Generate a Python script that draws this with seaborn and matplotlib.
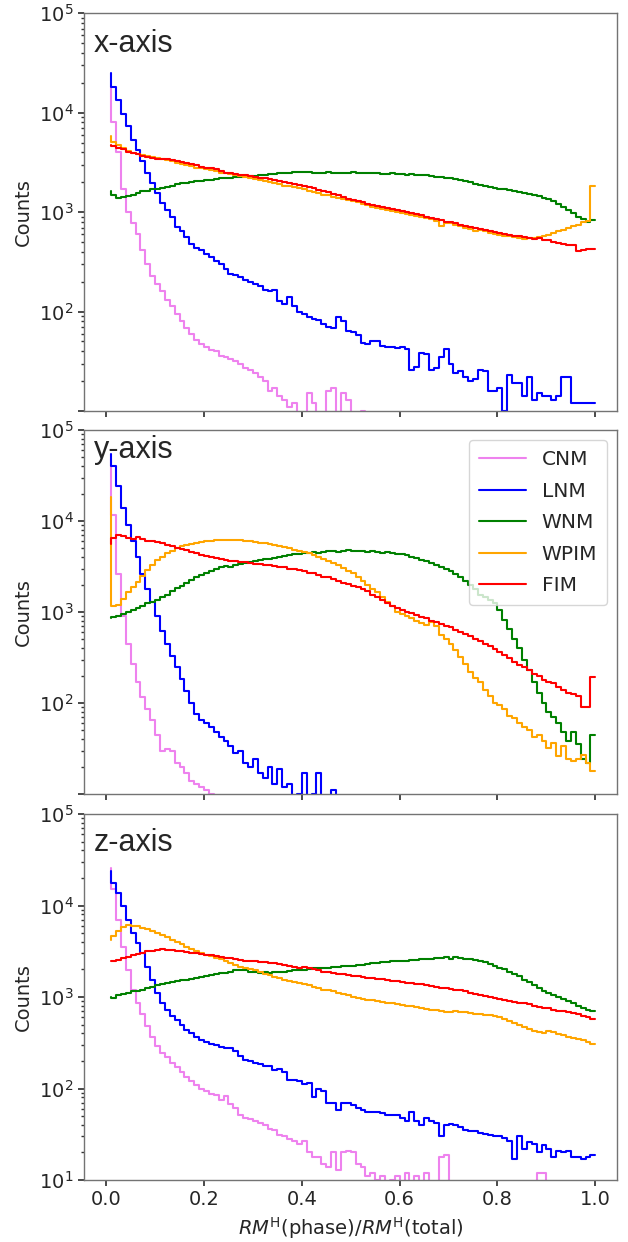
import numpy as np
import pandas as pd
import seaborn as sns
from matplotlib import pyplot as plt

# phase labels and colours
phases = ['CNM', 'LNM', 'WNM', 'WPIM', 'FIM']
phase_colors = {'CNM': 'violet', 'LNM': 'blue', 'WNM': 'green', 'WPIM': 'orange', 'FIM': 'red'}
panel_names = ['x-axis', 'y-axis', 'z-axis']

# 100 bins of RM(phase)/RM(total) (counts per bin)
cnm_x = [18000, 8000, 4000, 1700, 1000, 780, 600, 420, 300, 230,
         190, 160, 130, 115, 95, 80, 68, 60, 52, 47,
         44, 41, 40, 36, 35, 33, 32, 30, 27, 26,
         24, 22, 20, 16, 17, 14, 13, 11, 12, 9,
         8, 15, 12, 9, 7, 16, 17, 9, 15, 13,
         8, 7, 10, 6, 3, 3, 3, 3, 3, 3,
         3, 3, 3, 3, 3, 3, 3, 3, 3, 3,
         3, 3, 3, 3, 3, 3, 3, 3, 3, 3,
         3, 3, 3, 3, 3, 3, 3, 3, 3, 3,
         3, 3, 3, 3, 3, 3, 3, 3, 3, 3]
lnm_x = [25000, 18000, 13500, 9800, 7300, 5300, 4200, 3300, 2450, 1950,
         1550, 1230, 1050, 900, 710, 640, 560, 480, 440, 415,
         380, 355, 320, 300, 270, 240, 235, 224, 210, 200,
         190, 180, 163, 160, 165, 128, 120, 140, 115, 100,
         95, 88, 85, 82, 75, 70, 68, 88, 80, 64,
         62, 58, 48, 47, 51, 50, 45, 44, 44, 43,
         44, 42, 26, 28, 38, 37, 26, 27, 35, 42,
         30, 24, 25, 22, 20, 21, 26, 25, 16, 16,
         17, 10, 23, 19, 19, 14, 22, 13, 15, 14,
         14, 13, 14, 22, 22, 12, 12, 12, 12, 12]
wnm_x = [1650, 1500, 1400, 1420, 1450, 1500, 1560, 1620, 1650, 1700,
         1720, 1750, 1800, 1850, 1900, 1950, 1980, 2000, 2050, 2080,
         2100, 2120, 2150, 2180, 2200, 2220, 2250, 2270, 2300, 2300,
         2320, 2350, 2380, 2400, 2420, 2450, 2480, 2500, 2520, 2550,
         2550, 2520, 2500, 2480, 2450, 2550, 2470, 2450, 2500, 2480,
         2520, 2450, 2480, 2500, 2470, 2450, 2430, 2420, 2450, 2400,
         2420, 2380, 2400, 2350, 2340, 2360, 2300, 2280, 2250, 2200,
         2180, 2150, 2100, 2050, 2000, 1900, 1880, 1850, 1800, 1750,
         1720, 1700, 1680, 1650, 1600, 1560, 1520, 1480, 1440, 1400,
         1350, 1300, 1200, 1120, 1050, 980, 900, 850, 800, 830]
wpim_x = [5800, 5100, 4700, 4400, 4100, 3900, 3800, 3750, 3700, 3600,
          3500, 3450, 3350, 3250, 3100, 3050, 3000, 2900, 2800, 2750,
          2700, 2650, 2600, 2500, 2450, 2400, 2350, 2300, 2250, 2200,
          2150, 2100, 2050, 2000, 1950, 1900, 1850, 1820, 1780, 1750,
          1700, 1650, 1600, 1550, 1500, 1470, 1430, 1400, 1350, 1320,
          1280, 1250, 1220, 1170, 1130, 1100, 1080, 1050, 1020, 1000,
          980, 960, 930, 910, 890, 870, 850, 820, 720, 780,
          770, 750, 720, 700, 670, 640, 660, 640, 620, 600,
          590, 580, 570, 560, 550, 540, 550, 555, 560, 570,
          590, 610, 640, 660, 700, 720, 750, 800, 820, 1850]
fim_x = [4700, 4600, 4450, 4300, 4000, 3900, 3800, 3650, 3600, 3500,
         3450, 3450, 3400, 3350, 3250, 3200, 3150, 3050, 2950, 2850,
         2800, 2750, 2700, 2600, 2500, 2450, 2400, 2380, 2350, 2300,
         2250, 2200, 2180, 2150, 2100, 2050, 2000, 1950, 1900, 1870,
         1820, 1780, 1730, 1680, 1620, 1580, 1520, 1480, 1420, 1370,
         1330, 1300, 1260, 1220, 1180, 1150, 1130, 1100, 1080, 1050,
         1020, 1000, 970, 950, 930, 900, 870, 850, 830, 800,
         790, 770, 750, 730, 710, 700, 680, 660, 650, 630,
         610, 600, 590, 580, 580, 560, 550, 540, 545, 530,
         520, 500, 490, 480, 465, 470, 410, 420, 430, 430]

cnm_y = [48000, 11500, 2600, 900, 450, 270, 170, 115, 85, 65,
         45, 30, 31, 30, 22, 20, 17, 14, 13, 12,
         11, 10, 8, 6, 3, 3, 3, 3, 3, 3,
         3, 3, 3, 3, 3, 3, 3, 3, 3, 3,
         3, 3, 3, 3, 3, 3, 3, 3, 3, 3,
         3, 3, 3, 3, 3, 3, 3, 3, 3, 3,
         3, 3, 3, 3, 3, 3, 3, 3, 3, 3,
         3, 3, 3, 3, 3, 3, 3, 3, 3, 3,
         3, 3, 3, 3, 3, 3, 3, 3, 3, 3,
         3, 3, 3, 3, 3, 3, 3, 3, 3, 3]
lnm_y = [55000, 40000, 24000, 14000, 9000, 6000, 4000, 2600, 1800, 1300,
         900, 620, 440, 330, 250, 185, 135, 100, 75, 65,
         60, 55, 48, 42, 38, 34, 28, 30, 22, 20,
         24, 17, 15, 20, 13, 19, 12, 13, 9, 10,
         17, 9, 10, 17, 9, 6, 11, 3, 3, 3,
         3, 3, 3, 3, 3, 3, 3, 3, 3, 3,
         3, 3, 3, 3, 3, 3, 3, 3, 3, 3,
         3, 3, 3, 3, 3, 3, 3, 3, 3, 3,
         3, 3, 3, 3, 3, 3, 3, 3, 3, 3,
         3, 3, 3, 3, 3, 3, 3, 3, 3, 3]
wnm_y = [850, 880, 900, 950, 1000, 1050, 1100, 1150, 1250, 1300,
         1350, 1450, 1550, 1700, 1850, 1950, 2100, 2250, 2400, 2550,
         2700, 2850, 3000, 3100, 3200, 3100, 3300, 3400, 3450, 3550,
         3600, 3700, 3800, 3850, 3900, 4000, 4100, 4200, 4300, 4350,
         4400, 4500, 4550, 4500, 4600, 4650, 4700, 4600, 4700, 4750,
         4700, 4650, 4700, 4600, 4650, 4600, 4500, 4550, 4400, 4350,
         4300, 4200, 4050, 3900, 3750, 3600, 3450, 3300, 3100, 2950,
         2800, 2600, 2400, 2200, 2000, 1800, 1550, 1450, 1350, 1250,
         1050, 820, 650, 500, 400, 300, 230, 170, 130, 100,
         80, 70, 60, 48, 38, 48, 35, 24, 22, 45]
wpim_y = [18500, 1150, 1200, 1400, 1650, 1900, 2150, 2500, 2900, 3300,
          3700, 4000, 4400, 4700, 5000, 5300, 5500, 5650, 5800, 5900,
          6000, 6100, 6200, 6200, 6250, 6250, 6200, 6150, 6100, 6000,
          5900, 5800, 5700, 5550, 5400, 5300, 5150, 5000, 4850, 4700,
          4550, 4400, 4200, 4000, 3850, 3650, 3450, 3250, 3050, 2850,
          2650, 2400, 2200, 2000, 1800, 1650, 1450, 1300, 1150, 1000,
          940, 900, 850, 800, 760, 720, 780, 700, 560, 500,
          440, 380, 320, 270, 220, 190, 170, 140, 120, 100,
          95, 85, 72, 68, 60, 55, 50, 42, 45, 38,
          32, 36, 26, 34, 24, 23, 24, 27, 22, 18]
fim_y = [5600, 6500, 7000, 6800, 6500, 6400, 6600, 6300, 6100, 6000,
         5900, 5700, 5500, 5300, 5000, 4900, 4750, 4600, 4400, 4200,
         4150, 4050, 3950, 3850, 3700, 3650, 3600, 3550, 3500, 3450,
         3400, 3350, 3300, 3250, 3200, 3150, 3100, 3000, 2950, 2900,
         2800, 2700, 2650, 2550, 2450, 2400, 2300, 2200, 2100, 2050,
         1950, 1900, 1800, 1700, 1550, 1450, 1350, 1250, 1150, 1100,
         1050, 1000, 970, 920, 880, 850, 800, 780, 740, 700,
         680, 640, 600, 570, 540, 510, 480, 450, 420, 390,
         360, 340, 310, 280, 260, 250, 230, 210, 200, 180,
         170, 165, 150, 140, 130, 125, 120, 90, 90, 195]

cnm_z = [26000, 15000, 6900, 3500, 1950, 1200, 850, 660, 480, 370,
         290, 245, 220, 190, 170, 150, 135, 120, 110, 100,
         95, 88, 85, 75, 82, 68, 62, 52, 48, 46,
         44, 42, 40, 36, 35, 31, 30, 28, 27, 25,
         27, 20, 18, 18, 15, 14, 20, 13, 20, 21,
         20, 15, 14, 11, 12, 10, 11, 9, 10, 11,
         8, 12, 8, 11, 7, 12, 6, 5, 18, 19,
         8, 3, 3, 3, 3, 3, 3, 3, 3, 3,
         3, 3, 3, 3, 3, 3, 3, 3, 12, 12,
         3, 3, 3, 3, 3, 3, 3, 3, 3, 3]
lnm_z = [24000, 17500, 13800, 9800, 7000, 5000, 3900, 3000, 2150, 1550,
         1100, 850, 720, 620, 560, 500, 440, 400, 370, 340,
         320, 310, 300, 285, 280, 275, 260, 225, 205, 200,
         190, 185, 175, 175, 160, 165, 150, 125, 124, 120,
         112, 115, 81, 100, 95, 69, 70, 58, 69, 69,
         66, 62, 58, 56, 55, 56, 54, 52, 51, 52,
         48, 44, 56, 44, 40, 48, 44, 42, 30, 40,
         41, 40, 38, 35, 34, 34, 33, 32, 31, 30,
         30, 29, 27, 17, 30, 22, 26, 25, 20, 24,
         22, 18, 21, 20, 21, 18, 18, 17, 18, 19]
wnm_z = [1000, 980, 1050, 1080, 1100, 1150, 1150, 1200, 1250, 1300,
         1350, 1380, 1420, 1450, 1500, 1520, 1550, 1580, 1620, 1650,
         1700, 1750, 1800, 1850, 1850, 1900, 1950, 1950, 1950, 1900,
         1880, 1850, 1870, 1850, 1880, 1900, 1900, 1920, 1950, 1950,
         1980, 2000, 2050, 2050, 2100, 2100, 2150, 2150, 2200, 2200,
         2200, 2250, 2250, 2300, 2350, 2350, 2400, 2400, 2450, 2450,
         2450, 2500, 2550, 2550, 2600, 2600, 2600, 2650, 2650, 2750,
         2600, 2750, 2650, 2600, 2600, 2550, 2500, 2400, 2300, 2200,
         2100, 2000, 1900, 1800, 1700, 1550, 1450, 1350, 1250, 1150,
         1100, 1050, 1000, 950, 900, 850, 800, 760, 720, 700]
wpim_z = [4200, 4700, 5300, 5800, 6100, 6000, 5900, 5700, 5500, 5200,
          5000, 4800, 4500, 4200, 4000, 3800, 3550, 3350, 3150, 3000,
          2900, 2800, 2700, 2600, 2450, 2350, 2250, 2150, 2050, 2000,
          1950, 1900, 1800, 1750, 1650, 1600, 1550, 1500, 1450, 1420,
          1380, 1350, 1300, 1250, 1200, 1180, 1150, 1100, 1080, 1050,
          1000, 970, 950, 930, 920, 900, 880, 860, 850, 840,
          820, 800, 790, 780, 760, 740, 730, 720, 700, 690,
          680, 700, 680, 690, 670, 660, 650, 640, 630, 620,
          600, 580, 550, 520, 500, 470, 450, 430, 410, 400,
          420, 410, 390, 380, 370, 360, 350, 340, 320, 310]
fim_z = [2450, 2500, 2550, 2650, 2750, 2850, 2950, 3050, 3150, 3200,
         3300, 3350, 3300, 3250, 3200, 3150, 3100, 3050, 3000, 2950,
         2900, 2850, 2800, 2750, 2700, 2650, 2600, 2550, 2500, 2450,
         2450, 2400, 2400, 2350, 2350, 2300, 2250, 2200, 2150, 2100,
         2150, 2050, 2000, 1950, 1900, 1880, 1850, 1800, 1780, 1750,
         1700, 1680, 1650, 1620, 1600, 1580, 1560, 1540, 1500, 1480,
         1460, 1440, 1420, 1400, 1380, 1350, 1320, 1300, 1270, 1250,
         1230, 1200, 1180, 1150, 1120, 1080, 1050, 1020, 1000, 970,
         950, 920, 900, 880, 860, 850, 830, 800, 780, 760,
         750, 730, 710, 700, 690, 670, 650, 620, 600, 570]

panel_data = [
    [cnm_x, lnm_x, wnm_x, wpim_x, fim_x],
    [cnm_y, lnm_y, wnm_y, wpim_y, fim_y],
    [cnm_z, lnm_z, wnm_z, wpim_z, fim_z],
]

# right edges of the 100 bins
bin_edges = np.linspace(0, 1, 101)
x_right = bin_edges[1:]

sns.set_theme(style='ticks')
plt.rcParams['font.family'] = ['DejaVu Sans']
plt.rcParams['mathtext.fontset'] = 'dejavusans'

fig = plt.figure(figsize=(6.28, 12.42), dpi=100)
# axes boxes in figure fractions [left, bottom, width, height]
boxes = [
    [0.134, 0.6691, 0.849, 0.3202],
    [0.134, 0.3607, 0.849, 0.2931],
    [0.134, 0.0499, 0.849, 0.2947],
]
text_y = [0.903, 0.923, 0.900]

for p, box in enumerate(boxes):
    ax = fig.add_axes(box)
    for name, counts in zip(phases, panel_data[p]):
        df = pd.DataFrame({'x': x_right, 'counts': counts})
        sns.lineplot(data=df, x='x', y='counts', ax=ax, color=phase_colors[name],
                     drawstyle='steps-pre', linewidth=1.5, label=name)
    ax.set_yscale('log')
    ax.set_ylim(10, 1e5)
    ax.set_xlim(-0.045, 1.045)
    ax.set_xticks([0.0, 0.2, 0.4, 0.6, 0.8, 1.0])
    ax.set_ylabel('Counts', fontsize=14)
    ax.tick_params(axis='both', which='major', labelsize=14, length=4, color='0.2')
    ax.tick_params(axis='y', which='minor', length=2, color='0.2')
    for s in ax.spines.values():
        s.set_color('0.45')
        s.set_linewidth(1.0)
    ytick_vals = [1e1, 1e2, 1e3, 1e4, 1e5]
    ylabs = [r'$10^{1}$', r'$10^{2}$', r'$10^{3}$', r'$10^{4}$', r'$10^{5}$']
    if p < 2:
        ylabs[0] = ''
    ax.set_yticks(ytick_vals)
    ax.set_yticklabels(ylabs)
    if p < 2:
        ax.set_xticklabels([])
        ax.set_xlabel('')
    else:
        ax.set_xticklabels(['0.0', '0.2', '0.4', '0.6', '0.8', '1.0'])
        ax.set_xlabel(r'$RM^{\mathrm{H}}$(phase)/$RM^{\mathrm{H}}$(total)', fontsize=14)
    ax.text(0.018, text_y[p], panel_names[p], transform=ax.transAxes,
            fontsize=22, family=['Liberation Sans', 'DejaVu Sans'], va='baseline', ha='left')
    if p == 1:
        ax.legend(loc='upper right', fontsize=14.5, frameon=True,
                  handlelength=2.3, labelspacing=0.62, borderpad=0.5)
    else:
        ax.get_legend().remove()

fig.savefig('out.png', dpi=100)
